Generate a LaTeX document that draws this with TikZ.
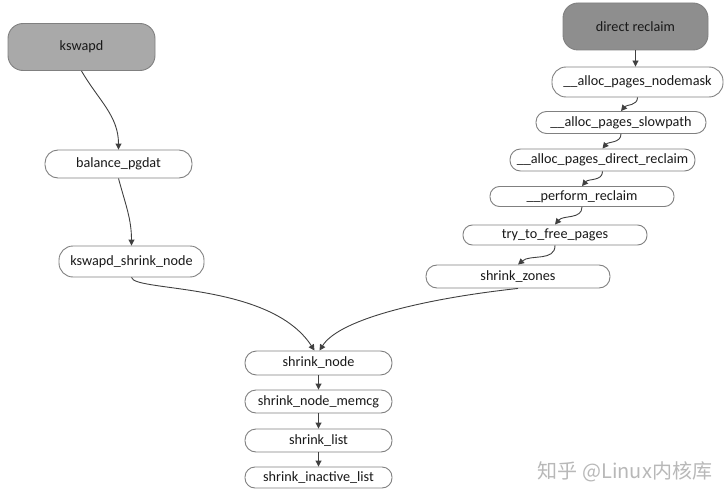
\documentclass[tikz,border=0pt]{standalone}
\usepackage{fontspec}
\setmainfont{Carlito}
\newfontfamily\cjk{Noto Sans CJK SC}
\usetikzlibrary{arrows.meta}
\definecolor{edgegray}{HTML}{404040}
\definecolor{bordergray}{HTML}{808080}
\definecolor{startA}{HTML}{A9A9A9}
\definecolor{startB}{HTML}{8E8E8E}
\begin{document}
\begin{tikzpicture}[x=1pt,y=1pt,
  fn/.style={draw=bordergray, line width=0.9pt, fill=white, inner sep=0pt,
    font=\fontsize{14.2}{16}\selectfont, text=black!90},
  arr/.style={draw=edgegray, line width=0.9pt, -{Triangle[length=6pt,width=6pt]}}]
\useasboundingbox (0,0) rectangle (726,-495);
% kswapd side
\node[fn, fill=startA, minimum width=147, minimum height=47, rounded corners=15] (ksw) at (81.5,-47) {kswapd};
\node[fn, minimum width=147, minimum height=28, rounded corners=13] (bal) at (118.5,-164) {balance\_pgdat};
\node[fn, minimum width=145, minimum height=31, rounded corners=14] (ksn) at (131.5,-261.5) {kswapd\_shrink\_node};
% direct reclaim side
\node[fn, fill=startB, minimum width=145, minimum height=47, rounded corners=15] (dr) at (635.5,-26.5) {direct reclaim};
\node[fn, minimum width=171, minimum height=30, rounded corners=14] (nm) at (637.5,-82) {\_\_alloc\_pages\_nodemask};
\node[fn, minimum width=170, minimum height=22, rounded corners=10.5] (sp) at (621,-122.5) {\_\_alloc\_pages\_slowpath};
\node[fn, minimum width=185, minimum height=22, rounded corners=10.5] (dir) at (602.5,-160) {\_\_alloc\_pages\_direct\_reclaim};
\node[fn, minimum width=184, minimum height=20, rounded corners=9.5] (pr) at (582,-196.5) {\_\_perform\_reclaim};
\node[fn, minimum width=184, minimum height=20, rounded corners=9.5] (try) at (555,-235) {try\_to\_free\_pages};
\node[fn, minimum width=184, minimum height=23, rounded corners=11] (sz) at (518,-276.5) {shrink\_zones};
% common
\node[fn, minimum width=147, minimum height=24, rounded corners=11.5] (sn) at (318.5,-363) {shrink\_node};
\node[fn, minimum width=147, minimum height=23, rounded corners=11] (snm) at (318.5,-401.5) {shrink\_node\_memcg};
\node[fn, minimum width=147, minimum height=23, rounded corners=11] (sl) at (318.5,-440.5) {shrink\_list};
\node[fn, minimum width=147, minimum height=21, rounded corners=10] (sil) at (318.5,-477.5) {shrink\_inactive\_list};
% watermark
\node[font=\cjk\fontsize{20}{22}\selectfont, text=black!28, inner sep=0pt] (wm) at (625,-472) {知乎 @Linux内核库};
% connectors
\draw[arr] (ksw.south) to[out=-60,in=90] (bal.north);
\draw[arr] (bal.south) to[out=-75,in=90] (ksn.north);
\draw[arr] (ksn.south) .. controls (134,-292) and (270,-282) .. ([xshift=-4pt]sn.north);
\draw[arr] (sz.south) .. controls (430,-298) and (340,-318) .. ([xshift=1pt]sn.north);
\draw[arr] (dr.south) -- (dr.south |- nm.north);
\draw[arr] (nm.south) to[out=-90,in=50] (sp.north);
\draw[arr] (sp.south) to[out=-90,in=50] (dir.north);
\draw[arr] (dir.south) to[out=-90,in=50] (pr.north);
\draw[arr] (pr.south) to[out=-90,in=50] (try.north);
\draw[arr] (try.south) to[out=-90,in=40] (sz.north);
\draw[arr] (sn.south) -- (snm.north);
\draw[arr] (snm.south) -- (sl.north);
\draw[arr] (sl.south) -- (sil.north);
\end{tikzpicture}
\end{document}
